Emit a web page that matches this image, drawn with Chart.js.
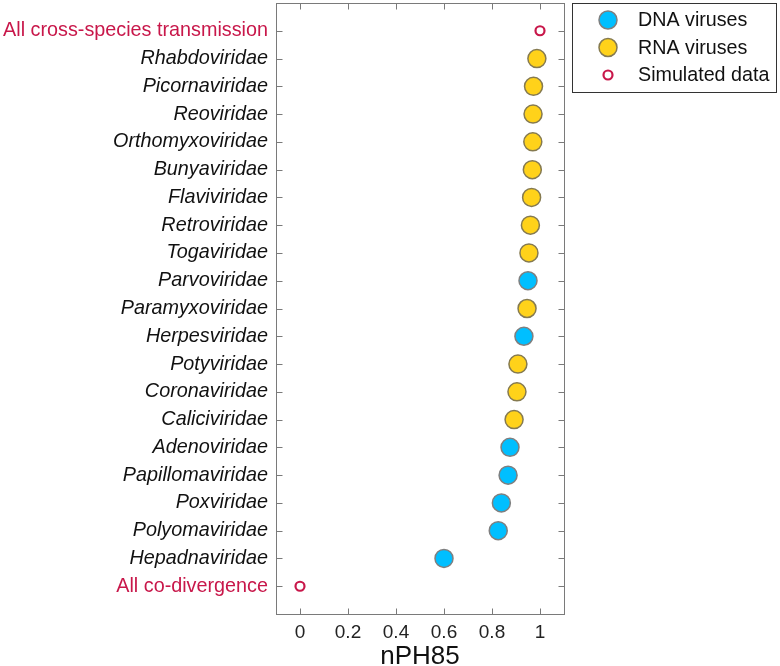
<!DOCTYPE html>
<html>
<head>
<meta charset="utf-8">
<script src="https://cdn.jsdelivr.net/npm/chart.js@4.4.1/dist/chart.umd.min.js"></script>
<style>
  html, body { margin: 0; padding: 0; background: #fff; }
  #wrap { width: 780px; height: 666px; }
</style>
</head>
<body>
<div id="wrap"><canvas id="nphChart" width="780" height="666"></canvas></div>
<script>
// categorías (de arriba a abajo)
const categories = [
    'All cross-species transmission', 'Rhabdoviridae', 'Picornaviridae', 'Reoviridae',
    'Orthomyxoviridae', 'Bunyaviridae', 'Flaviviridae', 'Retroviridae', 'Togaviridae',
    'Parvoviridae', 'Paramyxoviridae', 'Herpesviridae', 'Potyviridae', 'Coronaviridae',
    'Caliciviridae', 'Adenoviridae', 'Papillomaviridae', 'Poxviridae', 'Polyomaviridae',
    'Hepadnaviridae', 'All co-divergence'
];
const nph85 = [
    1.0, 0.987, 0.973, 0.971, 0.970, 0.968, 0.965, 0.960, 0.954,
    0.950, 0.946, 0.933, 0.908, 0.904, 0.892, 0.875, 0.867, 0.839, 0.826,
    0.600, 0.0
];
const virusType = [
    'SIM', 'RNA', 'RNA', 'RNA', 'RNA', 'RNA', 'RNA', 'RNA', 'RNA',
    'DNA', 'RNA', 'DNA', 'RNA', 'RNA', 'RNA', 'DNA', 'DNA', 'DNA', 'DNA',
    'DNA', 'SIM'
];
const xTickValues = [0, 0.2, 0.4, 0.6, 0.8, 1];
const xTickLabels = ['0', '0.2', '0.4', '0.6', '0.8', '1'];
const legendLabels = ['DNA viruses', 'RNA viruses', 'Simulated data'];

const RED = '#c8174a';
const FONT = '"Liberation Sans", Arial, Helvetica, sans-serif';

function puntos(tipo) {
    const out = [];
    categories.forEach((c, i) => {
        if (virusType[i] === tipo) out.push({ x: nph85[i], y: i });
    });
    return out;
}

function esTotal(c) {
    const v = c && c.tick ? c.tick.value : -1;
    return categories[v] !== undefined && categories[v].startsWith('All');
}

// caja + ticks hacia adentro + leyenda con marco
const boxPlugin = {
    id: 'boxPlugin',
    afterDraw(chart) {
        const ctx = chart.ctx;
        const a = chart.chartArea;
        const xs = chart.scales.x, ys = chart.scales.y;
        const L = Math.round(a.left) + 0.5, R = Math.round(a.right) + 0.5;
        const T = Math.round(a.top) + 0.5, B = Math.round(a.bottom) + 0.5;
        ctx.save();
        ctx.strokeStyle = '#7a7a7a';
        ctx.lineWidth = 1;
        ctx.strokeRect(L, T, R - L, B - T);
        ctx.beginPath();
        xTickValues.forEach(v => {
            const px = Math.round(xs.getPixelForValue(v)) + 0.5;
            ctx.moveTo(px, B); ctx.lineTo(px, B - 6);
            ctx.moveTo(px, T); ctx.lineTo(px, T + 6);
        });
        categories.forEach((c, i) => {
            const py = Math.round(ys.getPixelForValue(i)) + 0.5;
            ctx.moveTo(L, py); ctx.lineTo(L + 6, py);
            ctx.moveTo(R, py); ctx.lineTo(R - 6, py);
        });
        ctx.stroke();

        // leyenda
        ctx.strokeStyle = '#333';
        ctx.strokeRect(572.5, 3.5, 204, 89);
        ctx.font = '19.7px ' + FONT;
        ctx.textBaseline = 'middle';
        chart.data.datasets.forEach((ds, i) => {
            const cy = 20 + i * 27.5;
            ctx.beginPath();
            ctx.arc(608, cy, ds.pointRadius, 0, Math.PI * 2);
            ctx.fillStyle = ds.backgroundColor;
            ctx.fill();
            ctx.lineWidth = ds.borderWidth;
            ctx.strokeStyle = ds.borderColor;
            ctx.stroke();
            ctx.fillStyle = '#111';
            ctx.fillText(legendLabels[i], 638, cy + 1);
        });
        ctx.restore();
    }
};

const canvas = document.getElementById('nphChart');
new Chart(canvas, {
    type: 'scatter',
    data: {
        datasets: [
            {
                label: legendLabels[0],
                data: puntos('DNA'),
                backgroundColor: '#00bfff',
                borderColor: '#7f7f7f',
                borderWidth: 1.5,
                pointRadius: 9,
                pointHoverRadius: 9
            },
            {
                label: legendLabels[1],
                data: puntos('RNA'),
                backgroundColor: '#ffd21a',
                borderColor: '#857a50',
                borderWidth: 1.5,
                pointRadius: 9,
                pointHoverRadius: 9
            },
            {
                label: legendLabels[2],
                data: puntos('SIM'),
                backgroundColor: '#ffffff',
                borderColor: RED,
                borderWidth: 2.2,
                pointRadius: 4.5,
                pointHoverRadius: 4.5
            }
        ]
    },
    options: {
        responsive: false,
        animation: false,
        layout: { autoPadding: false, padding: { top: 3, right: 216, left: 0, bottom: 0 } },
        plugins: {
            legend: { display: false },
            tooltip: { enabled: false }
        },
        scales: {
            x: {
                type: 'linear',
                min: -0.1,
                max: 1.1,
                grid: { display: false, drawTicks: false },
                border: { display: false },
                afterBuildTicks: s => { s.ticks = xTickValues.map(v => ({ value: v })); },
                afterFit: s => { s.height = 52; s.paddingLeft = 0; s.paddingRight = 0; },
                ticks: {
                    padding: 7,
                    color: '#222',
                    font: { family: FONT, size: 19 },
                    callback: (v) => xTickLabels[xTickValues.indexOf(v)] ?? ''
                },
                title: {
                    display: true,
                    text: 'nPH85',
                    color: '#111',
                    font: { family: FONT, size: 26, lineHeight: 1 },
                    padding: { top: 0, bottom: -4 }
                }
            },
            y: {
                type: 'linear',
                min: -1,
                max: categories.length,
                reverse: true,
                grid: { display: false, drawTicks: false },
                border: { display: false },
                afterBuildTicks: s => { s.ticks = categories.map((c, i) => ({ value: i })); },
                afterFit: s => { s.width = 276; s.paddingTop = 0; s.paddingBottom = 0; },
                ticks: {
                    padding: 8,
                    autoSkip: false,
                    color: (c) => esTotal(c) ? RED : '#111',
                    font: (c) => ({
                        family: FONT,
                        size: 19.8,
                        style: esTotal(c) ? 'normal' : 'italic'
                    }),
                    callback: (v) => categories[v] ?? ''
                }
            }
        }
    },
    plugins: [boxPlugin]
});
</script>
</body>
</html>
